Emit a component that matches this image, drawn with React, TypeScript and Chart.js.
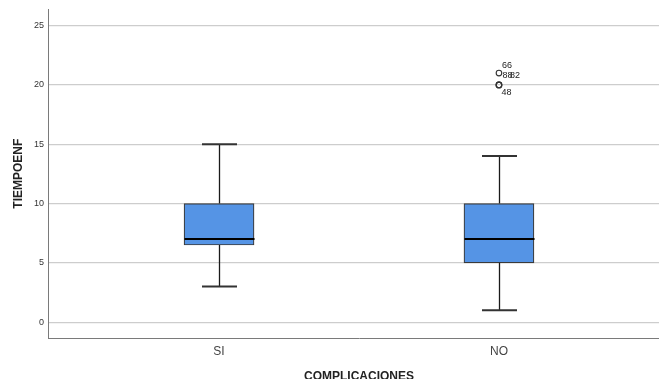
import React, { useEffect, useRef } from "react";
import { Chart, registerables } from "chart.js";

Chart.register(...registerables);

const categories = ["SI", "NO"];
const mins = [3, 1];
const q1s = [6.5, 5];
const medians = [7, 7];
const q3s = [10, 10];
const maxs = [15, 14];
const yTicks = [0, 5, 10, 15, 20, 25];
const outlierCategory = [1, 1, 1, 1];
const outlierValues = [21, 20, 20, 20];
const outlierLabels = ["66", "88", "82", "48"];

const FONT = "'Liberation Sans', Arial, sans-serif";
const labelOffsets = [
  [3, -8],
  [3.5, -9],
  [11, -9],
  [2.5, 7.5],
];

const boxPlugin = {
  id: "boxWhiskers",
  afterDatasetsDraw(chart: any) {
    const { ctx, scales } = chart;
    const xs = scales.x;
    const ys = scales.y;
    ctx.save();
    categories.forEach((_, i) => {
      const cx = Math.round(xs.getPixelForValue(i + 1)) + 0.5;
      const capHalf = 17.5;
      const halfBox = 35;
      const yMin = ys.getPixelForValue(mins[i]);
      const yMax = ys.getPixelForValue(maxs[i]);
      const yQ1 = ys.getPixelForValue(q1s[i]);
      const yQ3 = ys.getPixelForValue(q3s[i]);
      const yMed = ys.getPixelForValue(medians[i]);
      ctx.strokeStyle = "#1a1a1a";
      ctx.lineWidth = 1.3;
      ctx.beginPath();
      ctx.moveTo(cx, yQ3);
      ctx.lineTo(cx, yMax);
      ctx.moveTo(cx, yQ1);
      ctx.lineTo(cx, yMin);
      ctx.stroke();
      ctx.lineWidth = 2;
      ctx.strokeStyle = "#333";
      ctx.beginPath();
      ctx.moveTo(cx - capHalf, yMax);
      ctx.lineTo(cx + capHalf, yMax);
      ctx.moveTo(cx - capHalf, yMin);
      ctx.lineTo(cx + capHalf, yMin);
      ctx.stroke();
      ctx.strokeStyle = "#000";
      ctx.lineWidth = 2;
      ctx.beginPath();
      ctx.moveTo(cx - halfBox, yMed);
      ctx.lineTo(cx + halfBox, yMed);
      ctx.stroke();
    });
    ctx.fillStyle = "#222";
    ctx.font = `9px ${FONT}`;
    ctx.textAlign = "left";
    ctx.textBaseline = "middle";
    outlierLabels.forEach((lab, j) => {
      const px = xs.getPixelForValue(outlierCategory[j] + 1);
      const py = ys.getPixelForValue(outlierValues[j]);
      const off = labelOffsets[j] || [3, 0];
      ctx.fillText(lab, px + off[0], py + off[1]);
    });
    ctx.restore();
  },
};

export default function App() {
  const ref = useRef<HTMLCanvasElement>(null);
  useEffect(() => {
    document.body.style.margin = "0";
    document.body.style.overflow = "hidden";
    const boxData = categories.map((_, i) => ({ x: i + 1, y: [q1s[i], q3s[i]] }));
    const outlierData = outlierValues.map((v, j) => ({ x: outlierCategory[j] + 1, y: v }));
    const chart = new Chart(ref.current as HTMLCanvasElement, {
      type: "bar",
      data: {
        datasets: [
          {
            type: "bar",
            data: boxData as any,
            backgroundColor: "#5594e5",
            borderColor: "#3a3a3a",
            borderWidth: 1.2,
            borderSkipped: false,
            barThickness: 70,
          } as any,
          {
            type: "scatter",
            data: outlierData as any,
            pointStyle: "circle",
            pointRadius: 2.8,
            pointBorderWidth: 1.1,
            pointBorderColor: "#333",
            pointBackgroundColor: "rgba(255,255,255,0)",
          } as any,
        ],
      },
      options: {
        responsive: false,
        animation: false,
        layout: { autoPadding: false, padding: { top: 8, right: 0, left: 0, bottom: 0 } },
        plugins: {
          legend: { display: false },
          tooltip: { enabled: false },
        },
        scales: {
          x: {
            type: "linear",
            offset: false,
            min: 0.389,
            max: 2.611,
            afterBuildTicks: (s: any) => {
              s.ticks = categories.map((_, i) => ({ value: i + 1 }));
            },
            afterFit: (s: any) => {
              s.height = 41;
              s.paddingLeft = 0;
              s.paddingRight = 0;
            },
            grid: { display: false, drawTicks: false },
            border: { display: true, color: "#7a7a7a", width: 1 },
            ticks: {
              callback: (v: any) => categories[Math.round(v) - 1] ?? "",
              font: { family: FONT, size: 12 },
              color: "#444",
              padding: 6,
              maxRotation: 0,
            },
            title: {
              display: true,
              text: "COMPLICACIONES",
              font: { family: FONT, size: 12, weight: "bold", lineHeight: 0.4 },
              color: "#222",
              padding: 0,
            },
          },
          y: {
            type: "linear",
            min: -1.34,
            max: 26.37,
            afterBuildTicks: (s: any) => {
              s.ticks = yTicks.map((v) => ({ value: v }));
            },
            afterFit: (s: any) => {
              s.width = 48;
            },
            grid: { color: "#cdcdcd", lineWidth: 1.2, drawTicks: false },
            border: { display: true, color: "#7a7a7a", width: 1 },
            ticks: {
              font: { family: FONT, size: 9 },
              color: "#333",
              padding: 4,
            },
            title: {
              display: true,
              text: "TIEMPOENF",
              font: { family: FONT, size: 12, weight: "bold", lineHeight: 1 },
              color: "#222",
              padding: { top: 13, bottom: 0 },
            },
          },
        },
      },
      plugins: [boxPlugin],
    });
    return () => chart.destroy();
  }, []);
  return (
    <div style={{ position: "absolute", left: 0, top: 0, width: 659, height: 379, overflow: "hidden" }}>
      <canvas ref={ref} width={670} height={379} />
    </div>
  );
}
